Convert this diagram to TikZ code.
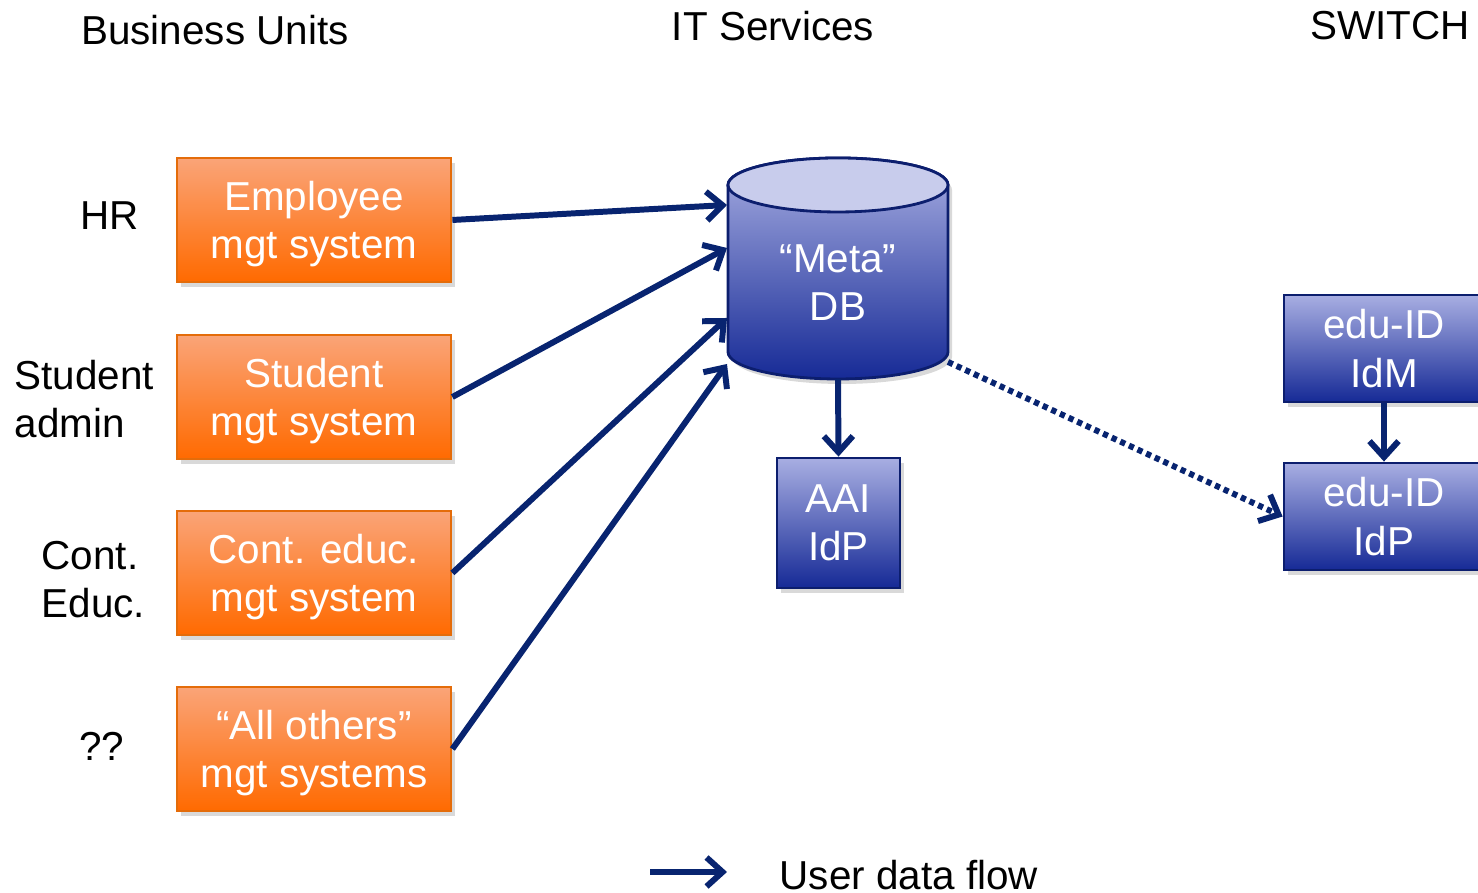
\documentclass[tikz,border=0pt]{standalone}
\usepackage{fontspec}
\setmainfont{Liberation Sans}
\usepackage{xcolor}
\usetikzlibrary{arrows.meta, shadows}

\definecolor{flow}{RGB}{8,36,112}
\definecolor{orangetop}{RGB}{250,164,120}
\definecolor{orangebot}{RGB}{255,106,0}
\definecolor{orangeline}{RGB}{228,108,10}
\definecolor{bluetop}{RGB}{168,174,226}
\definecolor{bluebot}{RGB}{22,42,150}
\definecolor{blueline}{RGB}{12,30,110}
\definecolor{dbtop}{RGB}{200,204,236}

\begin{document}
\begin{tikzpicture}
        \tikzset{
            txt/.style={font=\fontsize{11.5}{13.7}\selectfont, inner sep=0pt},
            sysbox/.style={txt, draw=orangeline, thick, top color=orangetop, bottom color=orangebot,
                text=white, align=center, text depth=0pt, minimum width=2.74cm, minimum height=1.24cm,
                drop shadow={shadow xshift=0.4mm, shadow yshift=-0.5mm, opacity=0.3}},
            idbox/.style={txt, draw=blueline, thick, top color=bluetop, bottom color=bluebot,
                text=white, align=center,
                drop shadow={shadow xshift=0.4mm, shadow yshift=-0.5mm, opacity=0.3}},
            flowarrow/.style={draw=flow, line width=1.7pt, -{Straight Barb[length=1.6mm,width=2.9mm]}}
        }

        \clip (0, 0) rectangle (14.78, 8.93);

        % column heads
        \node[txt] (units) at (2.15, 8.63) {Business Units};
        \node[txt] (its) at (7.73, 8.67) {IT Services};
        \node[txt] (switch) at (13.90, 8.67) {SWITCH};

        % business units
        \node[txt] (hr) at (1.10, 6.77) {HR};
        \node[txt, align=left, anchor=west] (stud) at (0.14, 4.94) {Student\\admin};
        \node[txt, align=left, anchor=west] (cont) at (0.41, 3.13) {Cont.\\Educ.};
        \node[txt] (other) at (1.02, 1.47) {??};

        \node[sysbox] (emp) at (3.14, 6.73) {Employee\\mgt system};
        \node[sysbox] (stm) at (3.14, 4.96) {Student\\mgt system};
        \node[sysbox] (cem) at (3.14, 3.20) {Cont. educ.\\mgt system};
        \node[sysbox] (all) at (3.14, 1.44) {“All others”\\mgt systems};

        % meta DB
        \shade[top color=bluetop, bottom color=bluebot, draw=blueline, thick,
            drop shadow={shadow xshift=0.4mm, shadow yshift=-0.5mm, opacity=0.3}]
            (7.28, 7.08) -- (7.28, 5.41)
            arc[start angle=180, end angle=360, x radius=1.1, y radius=0.27]
            -- (9.48, 7.08)
            arc[start angle=0, end angle=180, x radius=1.1, y radius=0.27] -- cycle;
        \filldraw[fill=dbtop, draw=blueline, thick] (8.38, 7.08) ellipse[x radius=1.1, y radius=0.27];
        \node[txt, text=white, align=center] (db) at (8.38, 6.10) {“Meta”\\DB};

        \coordinate (in1) at (7.27, 6.88);
        \coordinate (in2) at (7.27, 6.45);
        \coordinate (in3) at (7.27, 5.75);
        \coordinate (in4) at (7.27, 5.29);
        \coordinate (dbbot) at (8.38, 5.14);
        \coordinate (dbout) at (9.48, 5.31);

        \node[idbox, minimum width=1.23cm, minimum height=1.30cm] (aai) at (8.385, 3.70) {AAI\\IdP};
        \node[idbox, minimum width=2.0cm, minimum height=1.07cm] (idm) at (13.84, 5.445) {edu-ID\\IdM};
        \node[idbox, minimum width=2.0cm, minimum height=1.07cm] (idp) at (13.84, 3.765) {edu-ID\\IdP};

        \draw[flowarrow] (emp.east) -- (in1);
        \draw[flowarrow] (stm.east) -- (in2);
        \draw[flowarrow] (cem.east) -- (in3);
        \draw[flowarrow] (all.east) -- (in4);
        \draw[flowarrow] (dbbot) -- (aai.north);
        \draw[flowarrow] (idm.south) -- (idp.north);
        \draw[flowarrow, dash pattern=on 1.5pt off 1.2pt] (dbout) -- (idp.west);

        % legend
        \coordinate (lega) at (6.50, 0.21);
        \coordinate (legb) at (7.27, 0.21);
        \draw[flowarrow] (lega) -- (legb);
        \node[txt, anchor=west] (legend) at (7.79, 0.18) {User data flow};

    \end{tikzpicture}
\end{document}
